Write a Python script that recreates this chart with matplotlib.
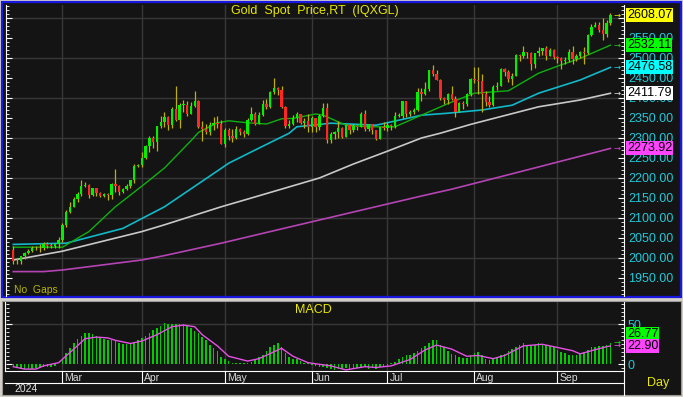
import matplotlib
matplotlib.use("Agg")
import matplotlib.pyplot as plt
import matplotlib.transforms as mtransforms
from matplotlib.patches import Rectangle
from matplotlib.ticker import MultipleLocator
import numpy as np
import pandas as pd

plt.rcParams['font.family'] = ['Liberation Sans', 'DejaVu Sans']

# ---- data (daily gold spot, weekdays 2024-02-13 .. 2024-09-20) ----
dates = pd.bdate_range('2024-02-13', '2024-09-20')

opens = [2020, 1992, 1992, 2004, 2013, 2018, 2024, 2025, 2024, 2036, 2031, 2030, 2034,
         2044, 2083, 2114, 2128, 2148, 2160, 2179, 2182, 2158, 2174, 2162, 2156, 2160, 2157, 2186, 2181, 2165, 2172, 2179, 2194, 2230,
         2233, 2250, 2280, 2300, 2290, 2329, 2339, 2352, 2333, 2372, 2344, 2383, 2383, 2361, 2379, 2392, 2327, 2322, 2316, 2332, 2337, 2335,
         2286, 2320, 2304, 2301, 2323, 2314, 2309, 2346, 2360, 2336, 2358, 2386, 2377, 2415, 2425, 2421, 2378, 2329, 2334, 2351, 2361, 2338, 2343,
         2327, 2350, 2327, 2355, 2376, 2294, 2311, 2316, 2325, 2303, 2333, 2319, 2329, 2328, 2360, 2322, 2334, 2319, 2298, 2327,
         2326, 2332, 2330, 2356, 2356, 2392, 2359, 2364, 2371, 2414, 2411, 2422, 2469, 2459, 2445, 2400, 2396, 2409, 2397, 2365, 2387, 2384, 2410,
         2447, 2446, 2443, 2410, 2390, 2382, 2428, 2431, 2472, 2465, 2447, 2456, 2507, 2504, 2514, 2512, 2485, 2512, 2518, 2524, 2505, 2521,
         2503, 2500, 2493, 2495, 2516, 2497, 2506, 2516, 2512, 2558, 2578, 2582, 2570, 2559, 2587]
highs = [2031, 2000, 2005, 2016, 2023, 2031, 2030, 2035, 2041, 2041, 2038, 2037, 2052,
         2088, 2119, 2141, 2152, 2165, 2195, 2189, 2185, 2176, 2175, 2166, 2163, 2163, 2187, 2223, 2183, 2176, 2185, 2195, 2236, 2236,
         2266, 2282, 2305, 2305, 2331, 2354, 2365, 2354, 2378, 2431, 2387, 2394, 2392, 2390, 2417, 2395, 2343, 2335, 2340, 2352, 2354, 2345,
         2326, 2326, 2323, 2331, 2325, 2319, 2351, 2378, 2366, 2364, 2395, 2398, 2418, 2450, 2427, 2431, 2380, 2345, 2358, 2364, 2361, 2351, 2360,
         2354, 2351, 2360, 2388, 2387, 2314, 2318, 2342, 2327, 2336, 2334, 2334, 2333, 2365, 2369, 2336, 2336, 2321, 2328, 2339,
         2339, 2336, 2365, 2363, 2392, 2393, 2370, 2376, 2424, 2424, 2440, 2469, 2483, 2471, 2448, 2403, 2412, 2430, 2404, 2390, 2393, 2413, 2451,
         2477, 2477, 2461, 2418, 2405, 2432, 2441, 2476, 2474, 2471, 2463, 2509, 2510, 2531, 2514, 2514, 2512, 2528, 2526, 2529, 2524, 2523,
         2506, 2503, 2503, 2523, 2529, 2510, 2518, 2527, 2560, 2586, 2590, 2589, 2600, 2596, 2612]
lows = [1984, 1985, 1984, 1998, 2011, 2015, 2020, 2016, 2020, 2026, 2025, 2026, 2025,
        2039, 2077, 2112, 2127, 2141, 2154, 2177, 2150, 2155, 2155, 2152, 2152, 2146, 2147, 2166, 2157, 2163, 2170, 2175, 2187, 2228,
        2228, 2247, 2266, 2275, 2268, 2324, 2327, 2319, 2326, 2342, 2324, 2365, 2355, 2359, 2378, 2324, 2292, 2309, 2308, 2320, 2324, 2285,
        2277, 2296, 2291, 2298, 2307, 2303, 2307, 2342, 2332, 2336, 2356, 2373, 2375, 2411, 2407, 2374, 2326, 2325, 2332, 2341, 2335, 2326, 2314,
        2315, 2315, 2320, 2352, 2287, 2287, 2298, 2301, 2299, 2302, 2311, 2315, 2321, 2328, 2317, 2318, 2309, 2294, 2298, 2319,
        2318, 2319, 2326, 2352, 2350, 2353, 2355, 2360, 2367, 2393, 2408, 2417, 2455, 2444, 2394, 2384, 2385, 2395, 2353, 2364, 2373, 2381, 2406,
        2437, 2410, 2364, 2379, 2377, 2381, 2419, 2430, 2456, 2439, 2432, 2454, 2492, 2501, 2500, 2470, 2475, 2505, 2507, 2496, 2505, 2497,
        2488, 2472, 2484, 2489, 2485, 2493, 2500, 2486, 2511, 2555, 2577, 2566, 2546, 2552, 2583]
closes = [1992, 1992, 2004, 2013, 2018, 2024, 2025, 2024, 2036, 2031, 2030, 2034, 2044,
          2083, 2114, 2128, 2148, 2160, 2179, 2182, 2158, 2174, 2162, 2156, 2160, 2157, 2186, 2181, 2165, 2172, 2179, 2194, 2230, 2233,
          2250, 2280, 2300, 2290, 2329, 2339, 2352, 2333, 2372, 2344, 2383, 2383, 2361, 2379, 2392, 2327, 2322, 2316, 2332, 2337, 2335, 2286,
          2320, 2304, 2301, 2323, 2314, 2309, 2346, 2360, 2336, 2358, 2386, 2377, 2415, 2425, 2421, 2378, 2329, 2334, 2351, 2361, 2338, 2343, 2327,
          2350, 2327, 2355, 2376, 2294, 2311, 2316, 2325, 2303, 2333, 2319, 2329, 2328, 2360, 2322, 2334, 2319, 2298, 2327, 2326,
          2332, 2330, 2356, 2356, 2392, 2359, 2364, 2371, 2414, 2411, 2422, 2469, 2459, 2445, 2400, 2396, 2409, 2397, 2365, 2387, 2384, 2410, 2447,
          2446, 2443, 2410, 2390, 2382, 2428, 2431, 2472, 2465, 2447, 2456, 2507, 2504, 2514, 2512, 2485, 2512, 2518, 2524, 2505, 2521, 2503,
          2500, 2493, 2495, 2516, 2497, 2506, 2516, 2512, 2558, 2578, 2582, 2570, 2559, 2587, 2608.07]

# moving averages at sample days (day number, value)
ma20_day = [0, 13, 20, 27, 35, 40, 47, 49, 54, 57, 62, 67, 71, 74, 80, 82, 88, 94, 101, 108, 115, 122, 131, 139, 145, 150, 158]
ma20_val = [2027, 2027, 2066, 2128, 2187, 2225, 2293, 2314, 2338, 2343, 2338, 2335, 2348, 2349, 2360, 2357, 2332, 2328, 2328, 2357,
            2386, 2412, 2418, 2462, 2483, 2499, 2532.11]
ma50_day = [0, 14, 29, 40, 55, 57, 64, 73, 75, 84, 96, 108, 115, 124, 132, 139, 150, 158]
ma50_val = [2034, 2037, 2074, 2128, 2224, 2237, 2270, 2312, 2328, 2337, 2332, 2357, 2362, 2370, 2382, 2412, 2445, 2476.58]
ma100_day = [0, 3, 13, 25, 34, 40, 55, 63, 72, 81, 90, 99, 108, 113, 121, 139, 150, 158]
ma100_val = [1995, 2000, 2017, 2045, 2066, 2083, 2128, 2150, 2175, 2200, 2235, 2267, 2300, 2312, 2334, 2378, 2395, 2411.79]
ma200_day = [0, 8, 13, 34, 40, 55, 72, 90, 108, 116, 133, 158]
ma200_val = [1966, 1966, 1970, 1995, 2006, 2037, 2075, 2115, 2155, 2172, 2213, 2273.92]

macd = [-2, -4, -6, -6, -6, -6, -5, -5, -4, -4, -3, -2, 0,
        6, 14, 20, 26, 32, 36, 39, 39, 38, 36, 34, 32, 30, 30, 29, 27, 25, 25, 26, 28, 30,
        33, 35, 39, 43, 46, 48, 52, 51, 51, 50, 50, 50, 48, 46, 42, 39, 34, 30, 24, 20, 16, 9,
        6, 4, 2, 2, 2, 2, 2, 3, 5, 9, 12, 16, 21, 24, 26, 21, 14, 9, 7, 6, 4, 2, 1,
        -1, -2, -3, -4, -5, -6, -7, -6, -6, -5, -7, -6, -5, -5, -4, -6, -5, -6, -4, -3,
        -2, 1, 3, 6, 9, 11, 12, 14, 17, 20, 23, 27, 30, 30, 24, 21, 17, 13, 11, 9, 8, 8, 11,
        14, 15, 12, 7, 5, 7, 9, 11, 13, 16, 19, 22, 24, 27, 24, 23, 24, 26, 25, 24, 23, 21,
        18, 15, 14, 12, 11, 11, 13, 15, 18, 21, 22, 23, 23, 24, 26.77]
signal_day = [0, 3, 6, 8, 12, 16, 19, 22, 25, 27, 31, 34, 38, 42, 45, 48, 50, 54, 57, 62, 65, 71, 74, 78, 84, 88, 93, 96,
              100, 105, 109, 112, 116, 120, 123, 127, 130, 135, 140, 143, 148, 150, 153, 157, 158]
signal_val = [-3, -6, -6, -2, 2, 19, 32, 34, 33, 30, 26, 29, 37, 47, 49, 47, 37, 23, 10, 4, 7, 20, 10, 2, -2, -7, -3, -4,
              -2, 6, 18, 24, 19, 10, 11, 7, 11, 23, 25, 22, 17, 13, 17, 22, 22.9]

month_names = ['Mar', 'Apr', 'May', 'Jun', 'Jul', 'Aug', 'Sep']
price_ticks = [1950, 2000, 2050, 2100, 2150, 2200, 2250, 2300, 2350, 2400, 2450, 2500, 2550, 2600]

# ---- layout helpers (pixel boxes) ----
W, H = 683, 397
BG = '#141414'
GRID = '#383838'
CYAN_TXT = '#22c8d8'

fig = plt.figure(figsize=(W / 100, H / 100), dpi=100, facecolor='#d4d0c8')


def px_axes(l, t, r, b):
    return fig.add_axes([l / W, 1 - b / H, (r - l) / W, (b - t) / H])


bg = px_axes(0, 0, W, H)
bg.set_xlim(0, W)
bg.set_ylim(H, 0)
bg.axis('off')
bg.add_patch(Rectangle((1.5, 1.5), 679, 295, facecolor=BG, edgecolor='#1818e0', lw=1.6))
bg.add_patch(Rectangle((2, 301), 679, 94, facecolor=BG, edgecolor='#9a9a9a', lw=0.8))
bg.plot([624, 624], [302, 395], color='white', lw=0.8)
bg.plot([5, 624], [371, 371], color='white', lw=0.8)
bg.plot([5, 624], [383, 383], color='white', lw=0.8)
bg.plot([5, 5], [302, 371], color='white', lw=0.8)

x = np.arange(len(dates))
xlim = (-1.93, 161.6)
month_pos = [int(np.argmax(dates.month == m)) for m in range(3, 10)]

# ---- price panel ----
ax = px_axes(6, 5, 624, 296)
ax.set_facecolor('none')
ax.set_xlim(*xlim)
ax.set_ylim(1905, 2632.5)
for v in range(2000, 2601, 100):
    ax.axhline(v, color=GRID, lw=1, zorder=0)
for p in month_pos:
    ax.axvline(p, color=GRID, lw=1, zorder=0)

o = np.array(opens, float)
c = np.array(closes, float)
up = c >= o
ax.vlines(x, lows, highs, color='#c0b000', lw=0.9, zorder=2)
body_lo = np.minimum(o, c)
body_h = np.maximum(np.abs(c - o), 1.5)
ax.bar(x, body_h, bottom=body_lo, width=0.62, color=np.where(up, '#00f000', '#ff2626'), lw=0, zorder=3)

ax.plot(ma200_day, ma200_val, color='#b444b4', lw=1.2, zorder=1)
ax.plot(ma100_day, ma100_val, color='#c8c8c8', lw=1.2, zorder=1)
ax.plot(ma50_day, ma50_val, color='#10b8c8', lw=1.2, zorder=1)
ax.plot(ma20_day, ma20_val, color='#10b010', lw=1.0, zorder=1)

for s in ['top', 'bottom']:
    ax.spines[s].set_visible(False)
for s in ['left', 'right']:
    ax.spines[s].set_color('white')
    ax.spines[s].set_linewidth(0.8)
ax.set_xticks([])
ax.yaxis.tick_right()
ax.set_yticks(price_ticks)
ax.set_yticklabels([f'{v:.2f}' for v in price_ticks])
ax.yaxis.set_minor_locator(MultipleLocator(10))
ax.tick_params(axis='y', which='both', left=True, right=True, direction='in', color='white',
               labelcolor=CYAN_TXT, labelsize=9, pad=2.8)
ax.tick_params(axis='y', which='major', length=4)
ax.tick_params(axis='y', which='minor', length=2)

trans = mtransforms.blended_transform_factory(ax.transAxes, ax.transData)
last_labels = [(closes[-1], '#ffff00', '#e0e000'), (ma20_val[-1], '#00ff00', '#20d020'),
               (ma50_val[-1], '#00ffff', '#20d0e0'), (ma100_val[-1], '#ffffff', '#e0e0e0'),
               (ma200_val[-1], '#ff44ff', '#d040d0')]
for val, fc, ac in last_labels:
    ax.text(1.0049, val, f'{val:.2f}', transform=trans, ha='left', va='center', fontsize=9,
            color='black', clip_on=False, zorder=6,
            bbox=dict(boxstyle='square,pad=0.08', fc=fc, ec='none'))
    ax.text(0.9885, val, '\u2192', transform=trans, ha='center', va='center', fontsize=6,
            color=ac, clip_on=False, zorder=6, family='DejaVu Sans')

# ---- MACD panel ----
ax2 = px_axes(6, 302, 624, 371)
ax2.set_facecolor('none')
ax2.set_xlim(*xlim)
ax2.set_ylim(-8.4, 77.9)
ax2.axhline(50, color=GRID, lw=1, zorder=0)
for p in month_pos:
    ax2.axvline(p, color=GRID, lw=1, zorder=0)
ax2.bar(x, macd, width=0.42, color='#00cc00', lw=0, zorder=2)
ax2.plot(signal_day, signal_val, color='#e850e8', lw=1.0, zorder=3)
for s in ['top', 'bottom', 'left', 'right']:
    ax2.spines[s].set_visible(False)
ax2.set_xticks([])
ax2.yaxis.tick_right()
ax2.set_yticks([0, 50])
ax2.set_yticklabels(['0', '50'])
ax2.yaxis.set_minor_locator(MultipleLocator(5))
ax2.tick_params(axis='y', which='both', left=True, right=True, direction='in', color='white',
                labelcolor=CYAN_TXT, labelsize=9, pad=2.8)
ax2.tick_params(axis='y', which='major', length=4)
ax2.tick_params(axis='y', which='minor', length=2)
trans2 = mtransforms.blended_transform_factory(ax2.transAxes, ax2.transData)
# green value box sits just above the magenta one, as in the terminal
ax2.text(1.0049, 37.6, f'{macd[-1]:.2f}', transform=trans2, ha='left', va='center', fontsize=9,
         color='black', clip_on=False, zorder=6, bbox=dict(boxstyle='square,pad=0.08', fc='#00ff00', ec='none'))
ax2.text(1.0049, 23.4, f'{signal_val[-1]:.2f}', transform=trans2, ha='left', va='center',
         fontsize=9, color='black', clip_on=False, zorder=6,
         bbox=dict(boxstyle='square,pad=0.08', fc='#ff44ff', ec='none'))
ax2.text(0.9885, 24, '\u2192', transform=trans2, ha='center', va='center', fontsize=6,
         color='#e850e8', clip_on=False, zorder=6, family='DejaVu Sans')
ax2.text(0.9885, 27, '\u2192', transform=trans2, ha='center', va='center', fontsize=6,
         color='#20d020', clip_on=False, zorder=6, family='DejaVu Sans')

# ---- date row ----
ax3 = px_axes(6, 371, 624, 383)
ax3.set_facecolor('none')
ax3.set_xlim(*xlim)
ax3.set_ylim(0, 1)
ax3.axis('off')
for p, name in zip(month_pos, month_names):
    ax3.plot([p, p], [0, 1], color='white', lw=0.8)
    ax3.text(p + 0.5, 0.45, name, color='#d8d8d8', fontsize=7.5, ha='left', va='center')

# ---- texts ----
ov = px_axes(0, 0, W, H)
ov.set_xlim(0, W)
ov.set_ylim(H, 0)
ov.axis('off')
ov.text(315, 11, 'Gold  Spot  Price,RT  (IQXGL)', color='#e8e800', fontsize=9, ha='center', va='center')
ov.text(313, 310, 'MACD', color='#e8e800', fontsize=9, ha='center', va='center')
ov.text(14, 290, 'No  Gaps', color='#b8b400', fontsize=7.5, ha='left', va='center')
ov.text(658, 383, 'Day', color='#e8e800', fontsize=9, ha='center', va='center')
ov.text(14, 389.5, '2024', color='#e0e0e0', fontsize=7.5, ha='left', va='center')

fig.savefig('out.png', dpi=100, facecolor=fig.get_facecolor())
